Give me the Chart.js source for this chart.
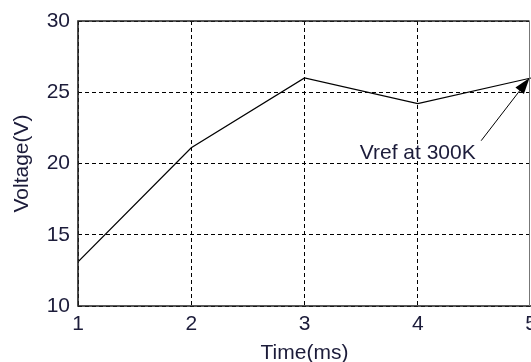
<!DOCTYPE html>
<html>
<head>
<meta charset="utf-8">
<script src="https://cdn.jsdelivr.net/npm/chart.js@4.4.0/dist/chart.umd.min.js"></script>
<style>
  html, body { margin: 0; padding: 0; background: #fff; }
</style>
</head>
<body>
<canvas id="chart" width="531" height="362"></canvas>
<script>
const timeMs = [1, 2, 3, 4, 5];
const voltage = [13.1, 21.1, 26.0, 24.2, 26.0];
const xTicks = [1, 2, 3, 4, 5];
const yTicks = [10, 15, 20, 25, 30];

// annotation: label centre, arrow tail and arrow tip in data units
const noteText = 'Vref at 300K';
const noteAt = [4.0, 20.75];
const arrowFrom = [4.56, 21.6];
const arrowTo = [5, 26];

const textColor = '#1c1c3a';
const font = { family: "'Liberation Sans', Arial, sans-serif", size: 21 };

// box around the plot + the text/arrow note
const frameAndNote = {
  id: 'frameAndNote',
  afterDatasetsDraw(chart) {
    const { ctx, chartArea: a, scales: { x, y } } = chart;
    const r = a.right - 1.5;
    ctx.save();
    ctx.strokeStyle = '#222';
    ctx.lineWidth = 1.6;
    ctx.beginPath();
    ctx.moveTo(r, a.top);
    ctx.lineTo(a.left, a.top);
    ctx.lineTo(a.left, a.bottom);
    ctx.lineTo(a.right, a.bottom);
    ctx.stroke();
    ctx.strokeStyle = '#777';
    ctx.lineWidth = 1;
    ctx.beginPath();
    ctx.moveTo(r, a.top);
    ctx.lineTo(r, a.bottom);
    ctx.stroke();

    ctx.fillStyle = textColor;
    ctx.font = `${font.size}px ${font.family}`;
    ctx.textAlign = 'center';
    ctx.textBaseline = 'middle';
    ctx.fillText(noteText, x.getPixelForValue(noteAt[0]), y.getPixelForValue(noteAt[1]));

    const x0 = x.getPixelForValue(arrowFrom[0]), y0 = y.getPixelForValue(arrowFrom[1]);
    const x1 = x.getPixelForValue(arrowTo[0]) - 1.5, y1 = y.getPixelForValue(arrowTo[1]);
    const ang = Math.atan2(y1 - y0, x1 - x0);
    const len = 17, half = 0.32;
    ctx.strokeStyle = '#000';
    ctx.fillStyle = '#000';
    ctx.lineWidth = 1;
    ctx.beginPath();
    ctx.moveTo(x0, y0);
    ctx.lineTo(x1 - Math.cos(ang) * len * 0.8, y1 - Math.sin(ang) * len * 0.8);
    ctx.stroke();
    ctx.beginPath();
    ctx.moveTo(x1, y1);
    ctx.lineTo(x1 - len * Math.cos(ang - half), y1 - len * Math.sin(ang - half));
    ctx.lineTo(x1 - len * Math.cos(ang + half), y1 - len * Math.sin(ang + half));
    ctx.closePath();
    ctx.fill();
    ctx.restore();
  }
};

new Chart(document.getElementById('chart'), {
  type: 'line',
  data: {
    datasets: [{
      data: timeMs.map((t, i) => ({ x: t, y: voltage[i] })),
      borderColor: '#000',
      borderWidth: 1.2,
      pointRadius: 0,
      tension: 0,
      fill: false
    }]
  },
  options: {
    responsive: false,
    animation: false,
    layout: {
      autoPadding: false,
      padding: { top: 21, right: 0, bottom: 0, left: 0 }
    },
    plugins: {
      legend: { display: false },
      tooltip: { enabled: false }
    },
    scales: {
      x: {
        type: 'linear',
        min: 1,
        max: 5,
        afterFit: (s) => {
          s.height = 56;
          s.paddingLeft = 0;
          s.paddingRight = 0;
        },
        afterBuildTicks: (s) => { s.ticks = xTicks.map(v => ({ value: v })); },
        grid: { color: '#000', lineWidth: 1, drawTicks: false },
        border: { display: false, dash: [4, 3] },
        ticks: { color: textColor, font: font, padding: 6, maxRotation: 0 },
        title: {
          display: true,
          text: 'Time(ms)',
          color: textColor,
          font: { ...font, lineHeight: 0.8 },
          padding: 0
        }
      },
      y: {
        min: 10,
        max: 30,
        afterFit: (s) => {
          s.width = 78;
          s.paddingTop = 0;
          s.paddingBottom = 0;
        },
        afterBuildTicks: (s) => { s.ticks = yTicks.map(v => ({ value: v })); },
        grid: { color: '#000', lineWidth: 1, drawTicks: false },
        border: { display: false, dash: [4, 3] },
        ticks: { color: textColor, font: font, padding: 8 },
        title: {
          display: true,
          text: 'Voltage(V)',
          color: textColor,
          font: { ...font, lineHeight: 1 },
          padding: { top: 12, bottom: 0 }
        }
      }
    }
  },
  plugins: [frameAndNote]
});
</script>
</body>
</html>
